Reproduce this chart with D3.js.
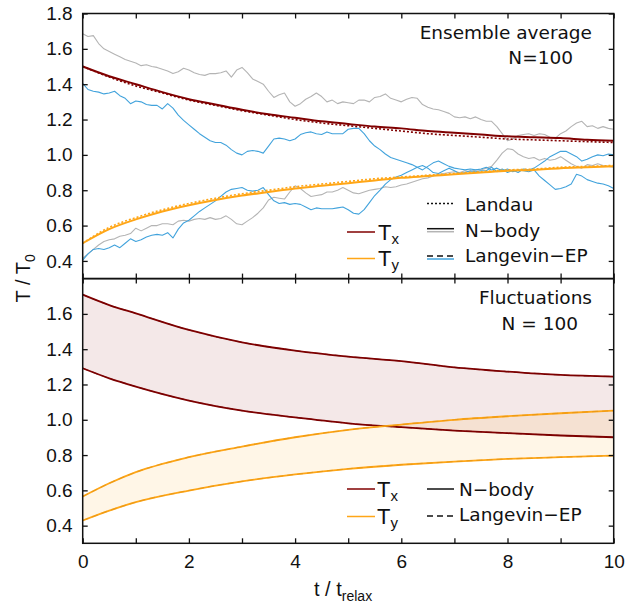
<!DOCTYPE html>
<html>
<head>
<meta charset="utf-8">
<script src="https://cdn.jsdelivr.net/npm/d3@7"></script>
<style>
  html, body { margin: 0; padding: 0; background: #fff; }
  svg { display: block; }
  text { fill: #111; }
</style>
</head>
<body>
<svg id="chart" width="636" height="605"></svg>
<script>
// ---------------- DATA ----------------
// fine time grid for the single-realisation (noisy) runs, t/t_relax
const tFine = [0.0,0.1,0.2,0.3,0.4,0.5,0.6,0.7,0.8,0.9,1.0,1.1,1.2,1.3,1.4,1.5,1.6,1.7,1.8,1.9,2.0,2.1,2.2,2.3,2.4,2.5,2.6,2.7,2.8,2.9,3.0,3.1,3.2,3.3,3.4,3.5,3.6,3.7,3.8,3.9,4.0,4.1,4.2,4.3,4.4,4.5,4.6,4.7,4.8,4.9,5.0,5.1,5.2,5.3,5.4,5.5,5.6,5.7,5.8,5.9,6.0,6.1,6.2,6.3,6.4,6.5,6.6,6.7,6.8,6.9,7.0,7.1,7.2,7.3,7.4,7.5,7.6,7.7,7.8,7.9,8.0,8.1,8.2,8.3,8.4,8.5,8.6,8.7,8.8,8.9,9.0,9.1,9.2,9.3,9.4,9.5,9.6,9.7,9.8,9.9,10.0];

// N-body single run (grey)
const nbodyRunTx = [1.685,1.67,1.675,1.63,1.60,1.585,1.57,1.555,1.54,1.53,1.52,1.505,1.51,1.50,1.495,1.485,1.475,1.46,1.47,1.49,1.48,1.465,1.455,1.45,1.46,1.46,1.465,1.475,1.44,1.48,1.495,1.465,1.43,1.415,1.40,1.36,1.325,1.34,1.35,1.30,1.275,1.29,1.315,1.33,1.35,1.33,1.30,1.31,1.29,1.30,1.295,1.29,1.31,1.31,1.30,1.325,1.33,1.345,1.32,1.31,1.30,1.315,1.325,1.32,1.285,1.27,1.26,1.255,1.245,1.235,1.215,1.21,1.215,1.205,1.215,1.20,1.19,1.19,1.16,1.12,1.08,1.09,1.11,1.115,1.12,1.11,1.12,1.115,1.10,1.095,1.12,1.135,1.16,1.18,1.19,1.16,1.165,1.15,1.16,1.15,1.145];
const nbodyRunTy = [0.415,0.44,0.465,0.49,0.51,0.52,0.525,0.54,0.545,0.555,0.585,0.57,0.585,0.60,0.60,0.61,0.61,0.605,0.625,0.63,0.625,0.635,0.64,0.635,0.645,0.635,0.64,0.655,0.635,0.61,0.605,0.625,0.645,0.67,0.70,0.745,0.76,0.755,0.75,0.79,0.825,0.81,0.785,0.765,0.77,0.775,0.79,0.79,0.80,0.815,0.80,0.785,0.78,0.79,0.80,0.805,0.81,0.82,0.815,0.82,0.83,0.835,0.845,0.855,0.865,0.87,0.88,0.89,0.895,0.90,0.905,0.90,0.91,0.905,0.915,0.915,0.925,0.935,0.97,1.01,1.035,1.03,1.005,0.99,0.98,0.985,0.97,0.98,0.97,0.975,0.99,0.97,0.95,0.935,0.925,0.945,0.94,0.95,0.94,0.935,0.93];
// Langevin-EP single run (blue)
const langevinRunTx = [1.405,1.37,1.36,1.355,1.345,1.35,1.36,1.335,1.32,1.29,1.305,1.30,1.285,1.28,1.28,1.26,1.29,1.265,1.225,1.195,1.17,1.145,1.12,1.10,1.08,1.07,1.07,1.055,1.03,1.01,1.0,1.02,1.025,1.02,1.01,1.05,1.09,1.095,1.09,1.08,1.09,1.115,1.125,1.13,1.12,1.115,1.13,1.12,1.12,1.12,1.145,1.15,1.15,1.12,1.08,1.05,1.03,1.005,0.985,0.975,0.965,0.955,0.945,0.93,0.915,0.935,0.955,0.965,0.95,0.935,0.925,0.92,0.915,0.92,0.915,0.92,0.93,0.915,0.925,0.91,0.92,0.905,0.915,0.91,0.905,0.915,0.88,0.855,0.83,0.805,0.81,0.82,0.835,0.89,0.88,0.86,0.85,0.84,0.835,0.825,0.81];
const langevinRunTy = [0.405,0.44,0.465,0.47,0.465,0.475,0.49,0.475,0.50,0.525,0.51,0.52,0.535,0.545,0.55,0.545,0.56,0.53,0.58,0.615,0.63,0.655,0.68,0.70,0.72,0.74,0.765,0.79,0.805,0.81,0.815,0.80,0.795,0.80,0.815,0.775,0.74,0.725,0.73,0.72,0.725,0.72,0.705,0.69,0.70,0.695,0.695,0.695,0.70,0.705,0.69,0.67,0.665,0.69,0.73,0.77,0.80,0.835,0.86,0.875,0.885,0.90,0.915,0.93,0.94,0.925,0.90,0.895,0.91,0.925,0.91,0.895,0.90,0.91,0.905,0.91,0.91,0.93,0.905,0.92,0.90,0.915,0.90,0.92,0.915,0.925,0.945,0.965,0.99,1.005,1.02,1.02,1.005,0.99,0.965,0.975,0.99,1.0,0.995,1.005,1.0];

// ensemble averages (smooth), t/t_relax
const tAvg = [0,0.5,1,1.5,2,2.5,3,3.5,4,4.5,5,5.5,6,6.5,7,7.5,8,8.5,9,9.5,10];
const nbodyAvgTx  = [1.50,1.445,1.40,1.355,1.315,1.285,1.255,1.23,1.21,1.19,1.175,1.16,1.15,1.135,1.125,1.115,1.105,1.10,1.095,1.085,1.08];
const landauTx    = [1.50,1.44,1.39,1.35,1.31,1.28,1.25,1.225,1.20,1.18,1.165,1.15,1.135,1.12,1.11,1.10,1.09,1.085,1.08,1.075,1.07];
const nbodyAvgTy  = [0.50,0.58,0.635,0.68,0.715,0.745,0.77,0.79,0.81,0.825,0.84,0.855,0.87,0.88,0.89,0.90,0.91,0.915,0.925,0.93,0.935];
const landauTy    = [0.50,0.59,0.645,0.69,0.725,0.755,0.78,0.80,0.82,0.835,0.85,0.865,0.875,0.885,0.895,0.905,0.915,0.92,0.93,0.935,0.94];

// fluctuation bands (mean +/- std), t/t_relax
const tFluct = [0,0.5,1,2,3,4,5,6,7,8,9,10];
const fluctTxUpper = [1.709,1.65,1.603,1.509,1.439,1.392,1.358,1.332,1.297,1.273,1.254,1.245];
const fluctTxLower = [1.292,1.235,1.188,1.109,1.052,1.014,0.98,0.958,0.939,0.924,0.911,0.901];
const fluctTyUpper = [0.565,0.64,0.703,0.788,0.848,0.901,0.943,0.973,1.0,1.02,1.037,1.052];
const fluctTyLower = [0.429,0.485,0.533,0.599,0.651,0.69,0.722,0.745,0.763,0.778,0.788,0.797];

// ticks
const xTicks = [0,1,2,3,4,5,6,7,8,9,10];
const xTickLabels = ["0","","2","","4","","6","","8","","10"];
const yTicksTop = [0.4,0.6,0.8,1.0,1.2,1.4,1.6,1.8];
const yTicksBottom = [0.4,0.6,0.8,1.0,1.2,1.4,1.6];

// ---------------- STYLE ----------------
const C = {
  red: "#800000",
  orange: "#ffa617",
  blue: "#42a3dc",
  grey: "#b4b4b4",
  black: "#111111"
};
const TICKFONT = "'Liberation Sans', Arial, sans-serif";
const TEXTFONT = "'DejaVu Sans', sans-serif";

const svg = d3.select("#chart");
const L = 82.7, R = 613.7, T0 = 13.5, MID = 278.6, B0 = 543.3;

const x = d3.scaleLinear().domain([0, 10]).range([L, R]);
const yTop = d3.scaleLinear().domain([0.3, 1.8]).range([MID, T0]);
const yBot = d3.scaleLinear().domain([0.3, 1.8]).range([B0, MID]);

// ---------------- BOTTOM PANEL (fluctuations) ----------------
function bandArea(y, lo, hi) {
  return d3.area().x((d, i) => x(tFluct[i])).y0((d, i) => y(lo[i])).y1((d, i) => y(hi[i])).curve(d3.curveMonotoneX);
}
function lineGen(ts, y, vals, curve) {
  return d3.line().x((d, i) => x(ts[i])).y((d, i) => y(vals[i])).curve(curve || d3.curveMonotoneX);
}

const gB = svg.append("g");
gB.append("path").datum(fluctTxUpper).attr("d", bandArea(yBot, fluctTxLower, fluctTxUpper))
  .attr("fill", C.red).attr("fill-opacity", 0.09);
gB.append("path").datum(fluctTyUpper).attr("d", bandArea(yBot, fluctTyLower, fluctTyUpper))
  .attr("fill", C.orange).attr("fill-opacity", 0.1);

[[fluctTxUpper, C.red], [fluctTxLower, C.red], [fluctTyUpper, C.orange], [fluctTyLower, C.orange]].forEach(([v, c]) => {
  gB.append("path").datum(v).attr("d", lineGen(tFluct, yBot, v))
    .attr("fill", "none").attr("stroke", c).attr("stroke-width", 1.8);
  gB.append("path").datum(v).attr("d", lineGen(tFluct, yBot, v))
    .attr("fill", "none").attr("stroke", d3.color(c).darker(0.35)).attr("stroke-width", 1.2)
    .attr("stroke-dasharray", "6,4").attr("opacity", 0.6);
});

// ---------------- TOP PANEL (ensemble average) ----------------
const gT = svg.append("g");
[[nbodyRunTx, C.grey], [nbodyRunTy, C.grey], [langevinRunTx, C.blue], [langevinRunTy, C.blue]].forEach(([v, c]) => {
  gT.append("path").datum(v).attr("d", lineGen(tFine, yTop, v, d3.curveLinear))
    .attr("fill", "none").attr("stroke", c).attr("stroke-width", 1.1).attr("stroke-linejoin", "round");
});
[[landauTx, C.red], [landauTy, C.orange]].forEach(([v, c]) => {
  gT.append("path").datum(v).attr("d", lineGen(tAvg, yTop, v))
    .attr("fill", "none").attr("stroke", c).attr("stroke-width", 1.6).attr("stroke-dasharray", "2,2");
});
[[nbodyAvgTx, C.red], [nbodyAvgTy, C.orange]].forEach(([v, c]) => {
  gT.append("path").datum(v).attr("d", lineGen(tAvg, yTop, v))
    .attr("fill", "none").attr("stroke", c).attr("stroke-width", 2);
});

// ---------------- AXES ----------------
function styleAxis(g) {
  g.select(".domain").remove();
  g.selectAll(".tick line").attr("stroke", C.black).attr("stroke-width", 1.3);
  g.selectAll(".tick text").attr("font-family", TICKFONT).attr("font-size", 19).attr("fill", C.black);
}
// x axes
const xNoLab = () => "";
svg.append("g").attr("transform", `translate(0,${T0})`)
  .call(d3.axisTop(x).tickValues(xTicks).tickSize(-5).tickFormat(xNoLab)).call(styleAxis);
svg.append("g").attr("transform", `translate(0,${MID})`)
  .call(d3.axisBottom(x).tickValues(xTicks).tickSize(-5).tickFormat(xNoLab)).call(styleAxis);
svg.append("g").attr("transform", `translate(0,${MID})`)
  .call(d3.axisTop(x).tickValues(xTicks).tickSize(-5).tickFormat(xNoLab)).call(styleAxis);
svg.append("g").attr("transform", `translate(0,${B0})`)
  .call(d3.axisBottom(x).tickValues(xTicks).tickSize(-5).tickPadding(11)
    .tickFormat((d, i) => xTickLabels[i])).call(styleAxis);
// y axes
const fmt = d3.format(".1f");
svg.append("g").attr("transform", `translate(${L},0)`)
  .call(d3.axisLeft(yTop).tickValues(yTicksTop).tickSize(-5).tickPadding(10).tickFormat(fmt)).call(styleAxis);
svg.append("g").attr("transform", `translate(${R},0)`)
  .call(d3.axisRight(yTop).tickValues(yTicksTop).tickSize(-5).tickFormat(xNoLab)).call(styleAxis);
svg.append("g").attr("transform", `translate(${L},0)`)
  .call(d3.axisLeft(yBot).tickValues(yTicksBottom).tickSize(-5).tickPadding(10).tickFormat(fmt)).call(styleAxis);
svg.append("g").attr("transform", `translate(${R},0)`)
  .call(d3.axisRight(yBot).tickValues(yTicksBottom).tickSize(-5).tickFormat(xNoLab)).call(styleAxis);

// frames
svg.append("rect").attr("x", L).attr("y", T0).attr("width", R - L).attr("height", MID - T0)
  .attr("fill", "none").attr("stroke", C.black).attr("stroke-width", 1.5);
svg.append("rect").attr("x", L).attr("y", MID).attr("width", R - L).attr("height", B0 - MID)
  .attr("fill", "none").attr("stroke", C.black).attr("stroke-width", 1.5);

// ---------------- AXIS TITLES ----------------
const yt = svg.append("text").attr("transform", `translate(30,${(T0 + B0) / 2}) rotate(-90)`)
  .attr("text-anchor", "middle").attr("font-family", TICKFONT).attr("font-size", 20);
yt.append("tspan").text("T / T");
yt.append("tspan").attr("font-size", 14).attr("dy", 5).text("0");

const xt = svg.append("text").attr("x", 314).attr("y", 596)
  .attr("font-family", TICKFONT).attr("font-size", 20);
xt.append("tspan").text("t / t");
xt.append("tspan").attr("font-size", 14).attr("dy", 5).text("relax");

// ---------------- ANNOTATIONS ----------------
function label(xp, yp, txt, anchor) {
  svg.append("text").attr("x", xp).attr("y", yp).attr("text-anchor", anchor || "start")
    .attr("font-family", TEXTFONT).attr("font-size", 18.5).text(txt);
}
label(592, 39, "Ensemble average", "end");
label(573, 64, "N=100", "end");
label(592, 304, "Fluctuations", "end");
label(578, 330, "N = 100", "end");

function tLabel(xp, yp, sub) {
  const t = svg.append("text").attr("x", xp).attr("y", yp)
    .attr("font-family", TICKFONT).attr("font-size", 22);
  t.append("tspan").text("T");
  t.append("tspan").attr("font-size", 15).attr("dy", 4).text(sub);
}
function sample(x1, x2, yp, color, dash, w) {
  svg.append("line").attr("x1", x1).attr("x2", x2).attr("y1", yp).attr("y2", yp)
    .attr("stroke", color).attr("stroke-width", w || 1.5).attr("stroke-dasharray", dash || null);
}

// top legend
sample(427, 454, 203.5, C.black, "2,2");
label(465, 211, "Landau");
sample(427, 454, 228.7, C.black, null, 1.5);
sample(427, 454, 231.7, C.grey, null, 1.5);
label(465, 237, "N\u2212body");
sample(347, 375, 232, C.red);
tLabel(378, 240, "x");
sample(427, 454, 256, C.black, "6,4", 1.5);
sample(427, 454, 259, C.blue, null, 1.5);
label(465, 262, "Langevin\u2212EP");
sample(347, 375, 258.5, C.orange);
tLabel(378, 266, "y");

// bottom legend
sample(347, 375, 489, C.red);
tLabel(377, 497, "x");
sample(347, 375, 516.5, C.orange);
tLabel(377, 524, "y");
sample(427, 454, 489, C.black);
label(459, 495.5, "N\u2212body");
sample(427, 454, 516, C.black, "6,4");
label(459, 521, "Langevin\u2212EP");
</script>
</body>
</html>
